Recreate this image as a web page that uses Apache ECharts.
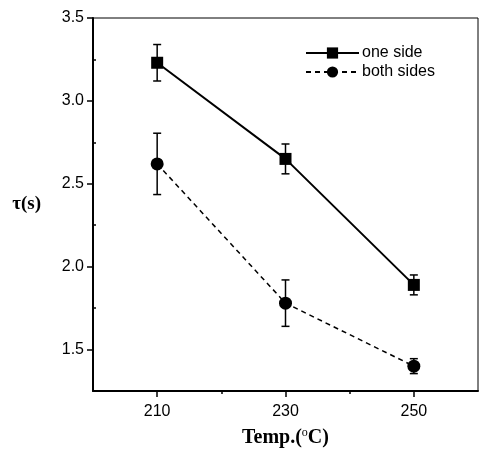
<!DOCTYPE html>
<html>
<head>
<meta charset="utf-8">
<script src="https://cdn.jsdelivr.net/npm/echarts@6/dist/echarts.min.js"></script>
<style>
html, body { margin: 0; padding: 0; background: #fff; }
#main { width: 480px; height: 454px; }
</style>
</head>
<body>
<div id="main"></div>
<script>
// data
var temps = [210, 230, 250];
var oneSide = [3.23, 2.65, 1.89];
var oneSideErr = [0.11, 0.09, 0.06];
var bothSides = [2.62, 1.78, 1.40];
var bothSidesErr = [0.185, 0.14, 0.045];
var xTicks = [210, 230, 250];
var xMinor = [220, 240];
var yTicks = [1.5, 2.0, 2.5, 3.0, 3.5];
var yMinor = [1.75, 2.25, 2.75, 3.25];

var sans = 'Liberation Sans, Arial, sans-serif';
var serif = 'Liberation Serif, Times New Roman, serif';

function pairs(xs, ys) {
    return xs.map(function (x, i) { return [x, ys[i]]; });
}
function errData(xs, ys, es) {
    return xs.map(function (x, i) { return [x, ys[i] - es[i], ys[i] + es[i]]; });
}
function renderErr(params, api) {
    var lo = api.coord([api.value(0), api.value(1)]);
    var hi = api.coord([api.value(0), api.value(2)]);
    var w = 4;
    var st = { stroke: '#000', lineWidth: 1.5 };
    return {
        type: 'group',
        children: [
            { type: 'line', shape: { x1: lo[0], y1: lo[1], x2: hi[0], y2: hi[1] }, style: st },
            { type: 'line', shape: { x1: lo[0] - w, y1: lo[1], x2: lo[0] + w, y2: lo[1] }, style: st },
            { type: 'line', shape: { x1: hi[0] - w, y1: hi[1], x2: hi[0] + w, y2: hi[1] }, style: st }
        ]
    };
}

var myChart = echarts.init(document.getElementById('main'));
option = {
    animation: false,
    grid: {
        left: 93, right: 2, top: 18, bottom: 63,
        show: true, borderColor: '#000', borderWidth: 1
    },
    legend: {
        orient: 'vertical',
        left: 305,
        top: 45,
        padding: 0,
        itemWidth: 53,
        itemHeight: 14,
        itemGap: 3,
        textStyle: { fontFamily: sans, fontSize: 16, color: '#000', padding: [0, 0, 0, -2] },
        data: ['one side', 'both sides']
    },
    xAxis: [
        {
            type: 'value', min: 200, max: 260,
            name: '{b|Temp.(}{s|o}{b|C)}',
            nameLocation: 'middle', nameGap: 36,
            nameTextStyle: {
                rich: {
                    b: { fontFamily: serif, fontWeight: 'bold', fontSize: 20, color: '#000' },
                    s: { fontFamily: serif, fontSize: 12, color: '#000', padding: [0, 0, 9, 0] }
                }
            },
            axisLine: { lineStyle: { color: '#000', width: 2 } },
            axisTick: { customValues: xTicks, length: 6, lineStyle: { color: '#000', width: 1.5 } },
            axisLabel: { customValues: xTicks, margin: 13, fontFamily: sans, fontSize: 16, color: '#000' },
            splitLine: { show: false }
        },
        {
            type: 'value', min: 200, max: 260, position: 'bottom',
            axisLine: { show: false },
            axisTick: { customValues: xMinor, length: 3, lineStyle: { color: '#000', width: 1.5 } },
            axisLabel: { show: false },
            splitLine: { show: false }
        }
    ],
    yAxis: [
        {
            type: 'value', min: 1.25, max: 3.5,
            name: 'τ(s)',
            nameLocation: 'middle', nameRotate: 0, nameGap: 52,
            nameTextStyle: { fontFamily: serif, fontWeight: 'bold', fontSize: 19, color: '#000', align: 'right' },
            axisLine: { lineStyle: { color: '#000', width: 2 } },
            axisTick: { customValues: yTicks, length: 6, lineStyle: { color: '#000', width: 1.5 } },
            axisLabel: {
                customValues: yTicks, margin: 9, fontFamily: sans, fontSize: 16, color: '#000',
                formatter: function (v) { return v.toFixed(1); }
            },
            splitLine: { show: false }
        },
        {
            type: 'value', min: 1.25, max: 3.5, position: 'left',
            axisLine: { show: false },
            axisTick: { inside: true, customValues: yMinor, length: 3, lineStyle: { color: '#000', width: 1.5 } },
            axisLabel: { show: false },
            splitLine: { show: false }
        }
    ],
    series: [
        {
            name: 'one side', type: 'line',
            data: pairs(temps, oneSide),
            symbol: 'rect', symbolSize: 12,
            lineStyle: { color: '#000', width: 2 },
            itemStyle: { color: '#000' },
            z: 3
        },
        {
            name: 'both sides', type: 'line',
            data: pairs(temps, bothSides),
            symbol: 'circle', symbolSize: 13,
            lineStyle: { color: '#000', width: 1.5, type: [5, 4] },
            itemStyle: { color: '#000' },
            z: 3
        },
        {
            type: 'custom', renderItem: renderErr,
            data: errData(temps, oneSide, oneSideErr), z: 2
        },
        {
            type: 'custom', renderItem: renderErr,
            data: errData(temps, bothSides, bothSidesErr), z: 2
        }
    ]
};
myChart.setOption(option);
</script>
</body>
</html>
